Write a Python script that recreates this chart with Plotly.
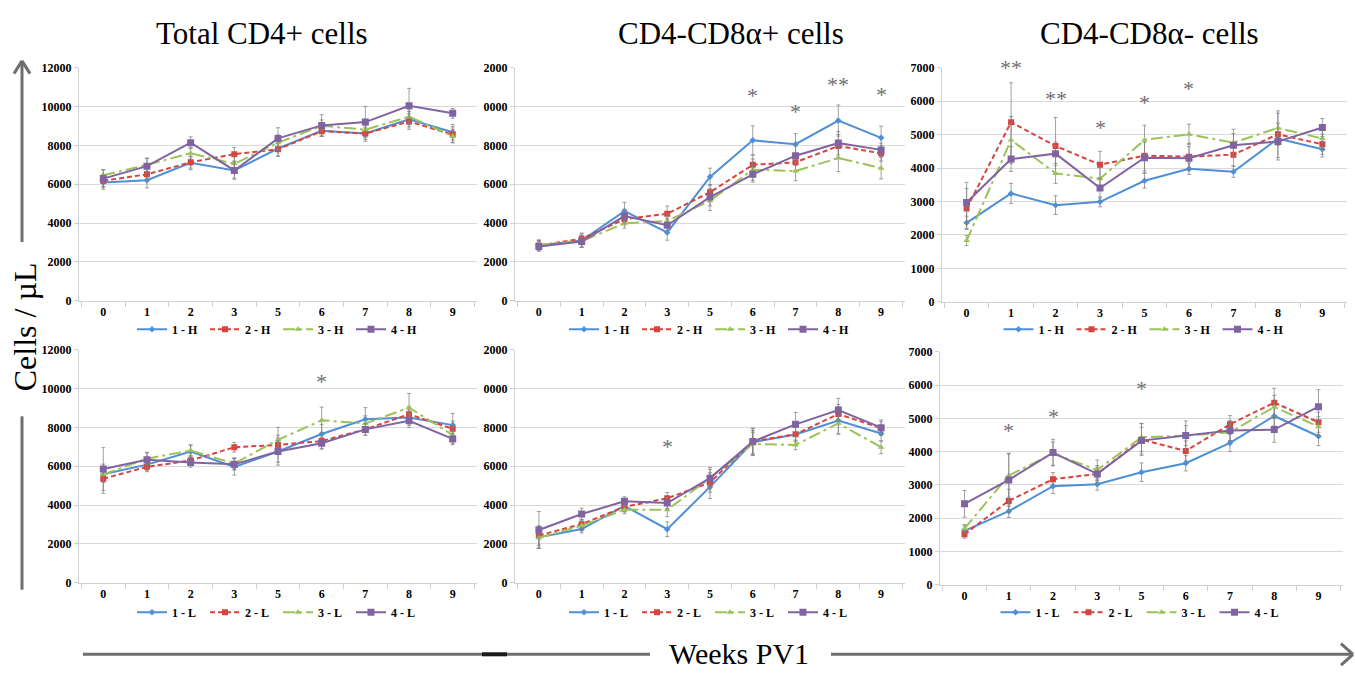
import plotly.graph_objects as go

W, H = 1355, 676

weeks = ["0", "1", "2", "3", "5", "6", "7", "8", "9"]
names_H = ["1 - H", "2 - H", "3 - H", "4 - H"]
names_L = ["1 - L", "2 - L", "3 - L", "4 - L"]
panel_titles = ["Total CD4+ cells", "CD4-CD8α+ cells", "CD4-CD8α- cells"]

# ---- Total CD4+ (H) ----
tot_H1 = [6090, 6210, 7100, 6710, 7840, 8760, 8610, 9350, 8680]
tot_H2 = [6180, 6510, 7130, 7550, 7800, 8730, 8610, 9230, 8560]
tot_H3 = [6460, 7000, 7600, 7050, 8140, 9010, 8810, 9480, 8480]
tot_H4 = [6290, 6930, 8140, 6710, 8360, 9030, 9200, 10040, 9650]
tot_H1_err = [350, 400, 350, 400, 400, 300, 400, 400, 400]
tot_H2_err = [300, 350, 300, 350, 350, 250, 300, 400, 400]
tot_H3_err = [300, 350, 300, 400, 400, 300, 350, 400, 350]
tot_H4_err = [450, 400, 300, 450, 550, 550, 800, 900, 250]

# ---- CD4-CD8a+ (H) ----
pos_H1 = [2850, 3100, 4620, 3520, 6380, 8260, 8060, 9280, 8390]
pos_H2 = [2850, 3190, 4200, 4480, 5590, 7000, 7130, 7970, 7590]
pos_H3 = [2890, 3070, 3990, 4110, 5150, 6750, 6680, 7350, 6830]
pos_H4 = [2800, 3050, 4360, 3890, 5340, 6510, 7470, 8120, 7770]
pos_H1_err = [250, 350, 450, 400, 450, 750, 550, 800, 600]
pos_H2_err = [250, 300, 300, 400, 400, 500, 450, 600, 400]
pos_H3_err = [250, 300, 250, 350, 500, 550, 500, 700, 550]
pos_H4_err = [250, 300, 350, 350, 450, 400, 500, 600, 350]

# ---- CD4-CD8a- (H) ----
neg_H1 = [2360, 3240, 2890, 2990, 3620, 3980, 3890, 4880, 4560]
neg_H2 = [2790, 5370, 4660, 4100, 4370, 4340, 4400, 5010, 4710]
neg_H3 = [1830, 4840, 3840, 3680, 4840, 5010, 4760, 5200, 4880]
neg_H4 = [2970, 4270, 4430, 3400, 4310, 4290, 4680, 4790, 5210]
neg_H1_err = [200, 300, 280, 150, 220, 170, 170, 200, 230]
neg_H2_err = [600, 1180, 850, 400, 450, 400, 350, 700, 300]
neg_H3_err = [150, 700, 300, 350, 440, 300, 400, 440, 300]
neg_H4_err = [600, 370, 350, 300, 450, 350, 350, 550, 270]

# ---- Total CD4+ (L) ----
tot_L1 = [5590, 6085, 6760, 5970, 6760, 7660, 8420, 8510, 8120]
tot_L2 = [5360, 5970, 6300, 6980, 7100, 7300, 7900, 8680, 7930]
tot_L3 = [5580, 6390, 6810, 6140, 7360, 8370, 8200, 9020, 7610]
tot_L4 = [5860, 6340, 6200, 6100, 6760, 7190, 7900, 8340, 7410]
tot_L1_err = [400, 300, 300, 420, 700, 500, 600, 400, 600]
tot_L2_err = [750, 250, 250, 250, 500, 400, 300, 400, 400]
tot_L3_err = [400, 300, 300, 300, 650, 680, 400, 730, 450]
tot_L4_err = [1100, 380, 250, 300, 550, 300, 300, 350, 300]

# ---- CD4-CD8a+ (L) ----
pos_L1 = [2340, 2770, 3960, 2760, 4940, 7240, 7640, 8360, 7690]
pos_L2 = [2440, 3020, 3910, 4350, 5170, 7290, 7650, 8690, 7960]
pos_L3 = [2320, 2940, 3760, 3760, 5390, 7150, 7100, 8210, 6980]
pos_L4 = [2720, 3540, 4200, 4110, 5390, 7270, 8160, 8900, 7990]
pos_L1_err = [550, 200, 300, 380, 600, 600, 400, 700, 400]
pos_L2_err = [500, 250, 250, 300, 500, 650, 350, 500, 350]
pos_L3_err = [550, 250, 200, 350, 450, 600, 250, 550, 330]
pos_L4_err = [950, 300, 230, 300, 550, 700, 620, 600, 400]

# ---- CD4-CD8a- (L) ----
neg_L1 = [1620, 2210, 2960, 3020, 3380, 3650, 4260, 5070, 4460]
neg_L2 = [1520, 2520, 3170, 3330, 4360, 4020, 4820, 5470, 4880]
neg_L3 = [1690, 3280, 3940, 3450, 4430, 4480, 4580, 5340, 4750]
neg_L4 = [2430, 3150, 3970, 3330, 4330, 4480, 4630, 4660, 5350]
neg_L1_err = [150, 190, 220, 180, 280, 230, 260, 300, 280]
neg_L2_err = [120, 350, 200, 200, 480, 300, 260, 430, 300]
neg_L3_err = [120, 650, 350, 300, 420, 300, 250, 350, 300]
neg_L4_err = [400, 800, 400, 250, 400, 440, 300, 380, 510]

# significance marks: (panel, week, label, y value)
sig_marks = [
    (2, "6", "*", 10570), (2, "7", "*", 9730), (2, "8", "**", 11130), (2, "9", "*", 10600),
    (3, "1", "**", 7000), (3, "2", "**", 6080), (3, "3", "*", 5220), (3, "5", "*", 5950), (3, "6", "*", 6380),
    (4, "6", "*", 10340),
    (5, "3", "*", 7020),
    (6, "1", "*", 4630), (6, "2", "*", 5050), (6, "5", "*", 5900),
]

panels = [
    dict(vals=[tot_H1, tot_H2, tot_H3, tot_H4], errs=[tot_H1_err, tot_H2_err, tot_H3_err, tot_H4_err], names=names_H),
    dict(vals=[pos_H1, pos_H2, pos_H3, pos_H4], errs=[pos_H1_err, pos_H2_err, pos_H3_err, pos_H4_err], names=names_H),
    dict(vals=[neg_H1, neg_H2, neg_H3, neg_H4], errs=[neg_H1_err, neg_H2_err, neg_H3_err, neg_H4_err], names=names_H),
    dict(vals=[tot_L1, tot_L2, tot_L3, tot_L4], errs=[tot_L1_err, tot_L2_err, tot_L3_err, tot_L4_err], names=names_L),
    dict(vals=[pos_L1, pos_L2, pos_L3, pos_L4], errs=[pos_L1_err, pos_L2_err, pos_L3_err, pos_L4_err], names=names_L),
    dict(vals=[neg_L1, neg_L2, neg_L3, neg_L4], errs=[neg_L1_err, neg_L2_err, neg_L3_err, neg_L4_err], names=names_L),
]

# ---- styling ----
SERIF = "Liberation Serif"
colors = ["#4F8FD6", "#D6453F", "#9CC25A", "#8064A2"]
dashes = ["solid", "5px,3px", "12px,4px,3px,4px", "solid"]
symbols = ["diamond", "square", "triangle-up", "square"]
msizes = [5, 6, 6, 7]

# pixel boxes: (x0, x1, ytop, ybottom)
boxes = [
    (79, 477, 62, 300), (515, 905, 62, 300), (942, 1347, 62, 301),
    (79, 477, 350, 588), (515, 905, 350, 588), (940, 1343, 352, 590),
]
legend_y = [329, 329, 329, 618, 618, 618]
yranges = [12000, 12000, 7000, 12000, 12000, 7000]

def px(x):
    return x / W

def py(y):
    return 1 - y / H

fig = go.Figure()
layout = dict(
    width=W, height=H, margin=dict(l=0, r=0, t=0, b=0),
    paper_bgcolor="white", plot_bgcolor="white", showlegend=True,
)

for i, (p, b) in enumerate(zip(panels, boxes)):
    k = "" if i == 0 else str(i + 1)
    leg = "legend" + k
    for j in range(4):
        fig.add_trace(go.Scatter(
            x=weeks, y=p["vals"][j], name=p["names"][j], mode="lines+markers",
            xaxis="x" + k, yaxis="y" + k, legend=leg,
            line=dict(color=colors[j], width=2, dash=dashes[j]),
            marker=dict(symbol=symbols[j], size=msizes[j], color=colors[j]),
            error_y=dict(type="data", array=p["errs"][j], visible=True,
                         color="rgba(130,130,130,0.75)", thickness=1, width=2),
        ))
    x0, x1, yt, yb = b
    ymax = yranges[i]
    dt = 2000 if ymax == 12000 else 1000
    tickvals = list(range(0, ymax + 1, dt))
    ticktext = [str(v) for v in tickvals]
    if i in (1, 4):
        ticktext = [t[-4:] if len(t) > 4 else t for t in ticktext]
    layout["xaxis" + k] = dict(
        domain=[px(x0), px(x1)], anchor="y" + k, type="category",
        categoryorder="array", categoryarray=weeks,
        showgrid=False, showline=True, linecolor="#d0d0d0", linewidth=1,
        ticks="outside", tickson="boundaries", ticklen=5, tickcolor="#d0d0d0",
        tickfont=dict(family=SERIF, size=12, color="black", weight="bold"),
        zeroline=False, fixedrange=True,
    )
    layout["yaxis" + k] = dict(
        domain=[py(yb), py(yt)], anchor="x" + k, range=[0, ymax],
        tickvals=tickvals, ticktext=ticktext,
        showgrid=True, gridcolor="#d9d9d9", gridwidth=1,
        showline=True, linecolor="#d0d0d0", linewidth=1,
        ticks="outside", ticklen=4, tickcolor="#d0d0d0",
        tickfont=dict(family=SERIF, size=12, color="black", weight="bold"),
        zeroline=False, fixedrange=True,
    )
    layout[leg] = dict(
        orientation="h", x=px((x0 + x1) / 2), y=py(legend_y[i]),
        xref="paper", yref="paper", xanchor="center", yanchor="middle",
        font=dict(family=SERIF, size=12, color="black", weight="bold"),
        itemwidth=30, entrywidth=28, entrywidthmode="pixels",
        bgcolor="rgba(0,0,0,0)", tracegroupgap=0,
    )

annotations = []
title_x = [262, 731, 1149]
for t, xc in zip(panel_titles, title_x):
    annotations.append(dict(text=t, x=px(xc), y=py(27), xref="paper", yref="paper",
                            showarrow=False, xanchor="center", yanchor="middle",
                            font=dict(family=SERIF, size=31, color="black")))

for (pi, wk, lab, yv) in sig_marks:
    k = "" if pi == 1 else str(pi)
    annotations.append(dict(text=lab, x=weeks.index(wk), y=yv, xref="x" + k, yref="y" + k,
                            showarrow=False, xanchor="center", yanchor="middle",
                            font=dict(family=SERIF, size=22, color="#707070")))

annotations.append(dict(text="Cells / µL", x=px(25), y=py(327), xref="paper", yref="paper",
                        showarrow=False, textangle=-90, xanchor="center", yanchor="middle",
                        font=dict(family=SERIF, size=32, color="black")))
annotations.append(dict(text="Weeks PV1", x=px(739), y=py(660), xref="paper", yref="paper",
                        showarrow=False, xanchor="center", yanchor="middle",
                        font=dict(family=SERIF, size=30, color="black")))
layout["annotations"] = annotations

LC = "#6e6e6e"
shapes = []
def seg(xa, ya, xb, yb, color=LC, w=3):
    shapes.append(dict(type="line", xref="paper", yref="paper",
                       x0=px(xa), y0=py(ya), x1=px(xb), y1=py(yb),
                       line=dict(color=color, width=w)))

# vertical arrow
seg(22, 595, 22, 418)
seg(22, 240, 22, 56)
seg(22, 55, 14, 68)
seg(22, 55, 30, 68)
# horizontal arrow
seg(83, 661, 650, 661)
seg(482, 661, 507, 661, color="#1a1a1a", w=4)
seg(831, 661, 1352, 661)
seg(1353, 661, 1341, 650)
seg(1353, 661, 1341, 672)
layout["shapes"] = shapes

fig.update_layout(**layout)
fig.write_html("out.html", config={"displayModeBar": False},
               post_script="document.body.style.margin='0';document.body.style.overflow='hidden';")
